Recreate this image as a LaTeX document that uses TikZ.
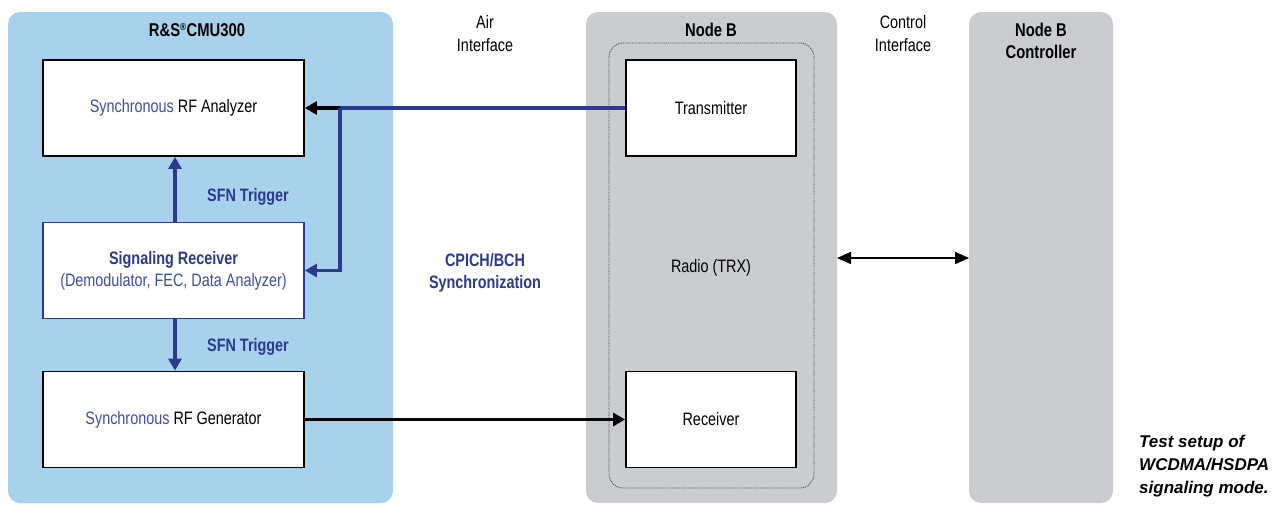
\documentclass[tikz,border=0pt]{standalone}
\usepackage{fontspec}
\setmainfont{Liberation Sans}[FakeStretch=0.8]
\newfontfamily\capfont{Liberation Sans}
\usetikzlibrary{arrows.meta,positioning}
\definecolor{panelblue}{HTML}{A8D1EC}
\definecolor{panelgray}{HTML}{CBCCD0}
\definecolor{darkblue}{HTML}{2B3990}
\definecolor{lightblue}{HTML}{3F4FA0}
\tikzset{
  panel/.style={rounded corners=12pt, draw=none},
  blk/.style={draw=black, line width=1.8pt, fill=white, minimum width=261pt, minimum height=96pt, inner sep=0pt, align=center, font=\fontsize{18}{22}\selectfont},
  blkb/.style={blk, draw=darkblue},
  txblk/.style={blk, minimum width=170pt},
  title/.style={font=\bfseries\fontsize{18.5}{22}\selectfont, align=center},
  lbl/.style={font=\fontsize{18}{23}\selectfont, align=center},
  bluelbl/.style={font=\bfseries\fontsize{18}{22}\selectfont, align=center, text=darkblue},
  blueline/.style={draw=darkblue, line width=3.5pt},
  blackarrow/.style={draw=black, line width=3.5pt, -{Triangle[length=12pt,width=13pt]}},
  bluearrow/.style={draw=darkblue, line width=3.5pt, -{Triangle[length=12pt,width=13pt]}},
}
\begin{document}
\begin{tikzpicture}[x=1pt,y=-1pt]
\useasboundingbox (0,0) rectangle (1274,504);
% panels
\fill[panel, fill=panelblue] (8,12) rectangle (393,503);
\fill[panel, fill=panelgray] (586,12) rectangle (837,503);
\fill[panel, fill=panelgray] (969,12) rectangle (1113,503);
\draw[rounded corners=14pt, dash pattern=on 0.9pt off 0.9pt, line width=0.9pt, draw=black!70] (609,43) rectangle (814,488);
% titles
\node[title] (t1) at (197,30) {R\&S\textsuperscript{\fontsize{10}{10}\selectfont\textregistered}CMU300};
\node[title] (t2) at (711,30) {Node B};
\node[title] (t3) at (1041,41) {Node B\\Controller};
\node[lbl] (air) at (485,34) {Air\\Interface};
\node[lbl] (ctl) at (903,34) {Control\\Interface};
% boxes
\node[blk] (an) at (173.5,108) {\textcolor{lightblue}{Synchronous} RF Analyzer};
\node[blkb] (sr) at (173.5,270.5) {\textcolor{darkblue}{\bfseries Signaling Receiver}\\\textcolor{lightblue}{(Demodulator, FEC, Data Analyzer)}};
\node[blk] (gen) at (173.5,419.5) {\textcolor{lightblue}{Synchronous} RF Generator};
\node[txblk] (tx) at (711,108) {Transmitter};
\node[txblk] (rx) at (711,419.5) {Receiver};
\node[lbl] (radio) at (711,268) {Radio (TRX)};
\node[bluelbl] (sync) at (485,273) {CPICH/BCH\\Synchronization};
\node[bluelbl] (sfn1) at (248,197) {SFN Trigger};
\node[bluelbl] (sfn2) at (248,347) {SFN Trigger};
\node[font=\capfont\bfseries\itshape\fontsize{17}{23}\selectfont, align=left, anchor=base west, inner sep=0pt] (cap) at (1139,493) {Test setup of\\WCDMA/HSDPA\\signaling mode.};
% connectors
\coordinate (j) at (340,108);
\draw[blackarrow] (j) -- (an.east);
\draw[blueline] (tx.west) -- (j);
\draw[bluearrow] (j) |- (sr.east);
\draw[bluearrow] (sr.north -| 175,0) -- (an.south -| 175,0);
\draw[bluearrow] (sr.south -| 175,0) -- (gen.north -| 175,0);
\draw[blackarrow] (gen.east) -- (rx.west);
\coordinate (ca) at (837,258);
\coordinate (cb) at (969,258);
\draw[line width=1.6pt, {Triangle[length=14pt,width=12pt]}-{Triangle[length=14pt,width=12pt]}] (ca) -- (cb);
\end{tikzpicture}
\end{document}
